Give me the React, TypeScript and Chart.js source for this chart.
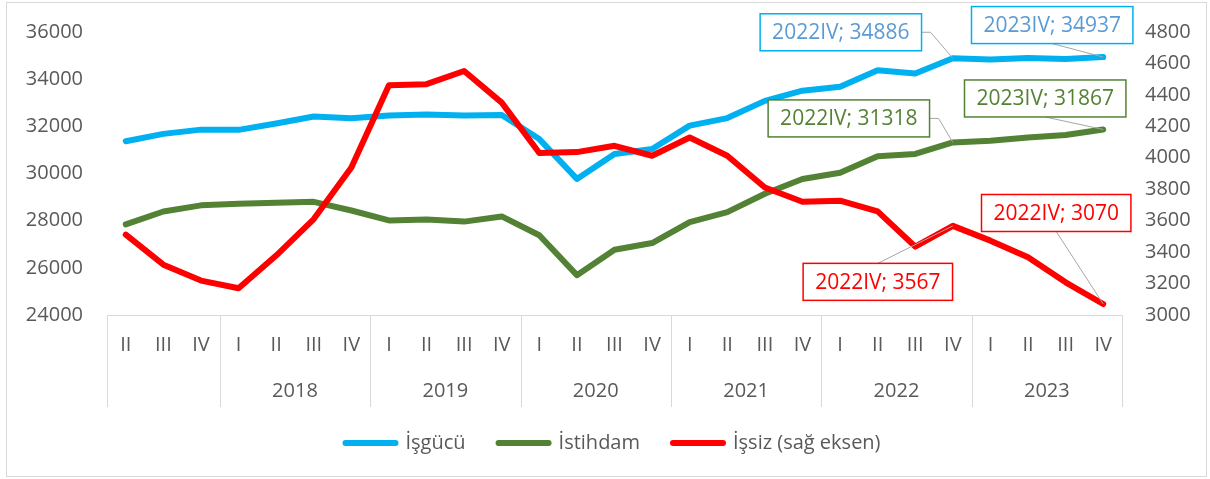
import { useEffect, useRef } from "react";
import { Chart, registerables } from "chart.js";

Chart.register(...registerables);

// ---- data ----
const quarterLabels = [
  "II", "III", "IV",
  "I", "II", "III", "IV",
  "I", "II", "III", "IV",
  "I", "II", "III", "IV",
  "I", "II", "III", "IV",
  "I", "II", "III", "IV",
  "I", "II", "III", "IV",
];
const yearLabels = ["", "2018", "2019", "2020", "2021", "2022", "2023"];
const yearGroupSizes = [3, 4, 4, 4, 4, 4, 4];

const isgucu = [
  31370, 31680, 31860,
  31850, 32120, 32420, 32340,
  32460, 32500, 32460, 32480,
  31460, 29770, 30830, 31040,
  32030, 32350, 33080, 33510,
  33680, 34380, 34240, 34886,
  34830, 34900, 34860, 34937,
];
const istihdam = [
  27840, 28390, 28650,
  28720, 28760, 28800, 28430,
  28010, 28050, 27960, 28180,
  27380, 25690, 26770, 27050,
  27940, 28360, 29140, 29770,
  30030, 30730, 30830, 31318,
  31390, 31530, 31630, 31867,
];
const issiz = [
  3511, 3320, 3219,
  3170, 3378, 3610, 3938,
  4461, 4468, 4552, 4351,
  4030, 4036, 4076, 4013,
  4129, 4013, 3811, 3720,
  3727, 3659, 3435, 3567,
  3473, 3367, 3208, 3070,
];

const seriesNames = ["İşgücü", "İstihdam", "İşsiz (sağ eksen)"];

const leftTicks = { min: 24000, max: 36000, step: 2000 };
const rightTicks = { min: 3000, max: 4800, step: 200 };

const labelTexts = [
  "2022IV; 34886",
  "2023IV; 34937",
  "2022IV; 31318",
  "2023IV; 31867",
  "2022IV; 3567",
  "2022IV; 3070",
];
const labelDatasets = [0, 0, 1, 1, 2, 2];
const labelIndexes = [22, 26, 22, 26, 22, 26];

// ---- styles ----
const COLORS = ["#00B0F0", "#548235", "#FF0000"];
const LABEL_TEXT_COLORS = ["#5B9BD5", "#548235", "#FF0000"];
const AXIS_COLOR = "#595959";
const FRAME_COLOR = "#D9D9D9";
const FONT_FAMILY = "'Open Sans', sans-serif";
const FONT_SIZE = 20;
const LABEL_FONT_SIZE = 21;

// label placement relative to the point (box centre offset) and leader anchor
const labelPlacement = [
  { dx: -112, dy: -26, anchor: "right" },
  { dx: -51, dy: -32, anchor: "bottom" },
  { dx: -104, dy: -24, anchor: "right" },
  { dx: -58, dy: -31, anchor: "bottom" },
  { dx: -75, dy: 56, anchor: "top" },
  { dx: -47, dy: -91, anchor: "bottom" },
];

const CAT_AXIS_HEIGHT = 85;
const SEPARATOR_DEPTH = 92;
const YEAR_LABEL_OFFSET = 76;
const LEGEND_SHIFT = 8;

const plainNumber = (v: any) => String(v);

const annotationPlugin = {
  id: "pointAnnotations",
  afterDatasetsDraw(chart: any) {
    const ctx = chart.ctx;
    ctx.save();
    ctx.font = `${LABEL_FONT_SIZE}px ${FONT_FAMILY}`;
    labelTexts.forEach((text, k) => {
      const ds = labelDatasets[k];
      const pt = chart.getDatasetMeta(ds).data[labelIndexes[k]];
      if (!pt) return;
      const p = labelPlacement[k];
      const cx = pt.x + p.dx;
      const cy = pt.y + p.dy;
      const tw = ctx.measureText(text).width;
      const w = tw + 24;
      const h = 37;
      const x0 = cx - w / 2;
      const y0 = cy - h / 2;
      // leader line
      ctx.strokeStyle = "#A6A6A6";
      ctx.lineWidth = 1;
      ctx.beginPath();
      if (p.anchor === "right") {
        ctx.moveTo(x0 + w, cy);
        ctx.lineTo(x0 + w + 9, cy);
      } else if (p.anchor === "bottom") {
        ctx.moveTo(cx, y0 + h);
      } else {
        ctx.moveTo(cx, y0);
      }
      ctx.lineTo(pt.x, pt.y);
      ctx.stroke();
      // box
      ctx.fillStyle = "#FFFFFF";
      ctx.fillRect(x0, y0, w, h);
      ctx.strokeStyle = COLORS[ds];
      ctx.lineWidth = 1.5;
      ctx.strokeRect(x0, y0, w, h);
      ctx.fillStyle = LABEL_TEXT_COLORS[ds];
      ctx.textAlign = "center";
      ctx.textBaseline = "middle";
      ctx.fillText(text, cx, cy + 1);
    });
    ctx.restore();
  },
};

const categoryAxisPlugin = {
  id: "multiLevelAxis",
  afterLayout(chart: any) {
    if (chart.legend) {
      chart.legend.left += LEGEND_SHIFT;
      chart.legend.right += LEGEND_SHIFT;
    }
  },
  afterDraw(chart: any) {
    const ctx = chart.ctx;
    const xs = chart.scales.x;
    const area = chart.chartArea;
    const top = area.bottom;
    const bottom = top + SEPARATOR_DEPTH;
    ctx.save();
    ctx.strokeStyle = FRAME_COLOR;
    ctx.lineWidth = 1;
    const vline = (x: number) => {
      const px = Math.round(x) + 0.5;
      ctx.beginPath();
      ctx.moveTo(px, top);
      ctx.lineTo(px, bottom);
      ctx.stroke();
    };
    vline(area.left);
    ctx.font = `${FONT_SIZE}px ${FONT_FAMILY}`;
    ctx.fillStyle = AXIS_COLOR;
    ctx.textAlign = "center";
    ctx.textBaseline = "middle";
    let start = 0;
    yearGroupSizes.forEach((size, g) => {
      const end = start + size - 1;
      const xStart = xs.getPixelForValue(start);
      const xEnd = xs.getPixelForValue(end);
      const boundary =
        end + 1 < quarterLabels.length
          ? (xEnd + xs.getPixelForValue(end + 1)) / 2
          : area.right;
      vline(boundary);
      if (yearLabels[g]) {
        ctx.fillText(yearLabels[g], (xStart + xEnd) / 2, top + YEAR_LABEL_OFFSET);
      }
      start = end + 1;
    });
    // outer chart frame
    ctx.strokeStyle = FRAME_COLOR;
    ctx.strokeRect(6.5, 2.5, 1200, 474);
    ctx.restore();
  },
};

const trimVerticalPadding = (s: any) => {
  s.paddingTop = 12;
  s.paddingBottom = 12;
};

export default function App() {
  const canvasRef = useRef<HTMLCanvasElement | null>(null);

  useEffect(() => {
    if (!canvasRef.current) return;
    const font = { family: FONT_FAMILY, size: FONT_SIZE };
    const chart = new Chart(canvasRef.current, {
      type: "line",
      data: {
        labels: quarterLabels,
        datasets: [
          { label: seriesNames[0], data: isgucu, yAxisID: "y", order: 1 },
          { label: seriesNames[1], data: istihdam, yAxisID: "y", order: 2 },
          { label: seriesNames[2], data: issiz, yAxisID: "y1", order: 0 },
        ].map((d, i) => ({
          ...d,
          borderColor: COLORS[i],
          backgroundColor: COLORS[i],
          borderWidth: 6,
          borderCapStyle: "round" as const,
          borderJoinStyle: "round" as const,
          pointRadius: 0,
          pointHoverRadius: 0,
          tension: 0,
          fill: false,
        })),
      },
      options: {
        animation: false,
        responsive: true,
        maintainAspectRatio: false,
        layout: { padding: { top: 32, bottom: 16, left: 0, right: 0 } },
        plugins: {
          tooltip: { enabled: false },
          legend: {
            position: "bottom",
            labels: {
              usePointStyle: true,
              pointStyleWidth: 50,
              color: AXIS_COLOR,
              font,
              padding: 33,
              generateLabels: (c: any) =>
                (Chart.defaults.plugins.legend.labels as any)
                  .generateLabels(c)
                  .map((l: any) => ({
                    ...l,
                    pointStyle: "line",
                    lineWidth: 6,
                    lineCap: "round",
                    strokeStyle: COLORS[l.datasetIndex],
                    fillStyle: COLORS[l.datasetIndex],
                  }))
                  .sort((a: any, b: any) => a.datasetIndex - b.datasetIndex),
            },
          },
        },
        scales: {
          x: {
            type: "category",
            offset: true,
            grid: { display: false, drawTicks: false },
            border: { display: true, color: FRAME_COLOR, width: 1 },
            ticks: {
              autoSkip: false,
              maxRotation: 0,
              color: AXIS_COLOR,
              font,
              padding: 18,
            },
            afterFit: (s: any) => {
              s.height = CAT_AXIS_HEIGHT;
            },
          },
          y: {
            position: "left",
            min: leftTicks.min,
            max: leftTicks.max,
            grid: { display: false, drawTicks: false },
            border: { display: false },
            ticks: {
              stepSize: leftTicks.step,
              color: AXIS_COLOR,
              font,
              padding: 24,
              callback: plainNumber,
            },
            afterFit: (s: any) => {
              s.width = 107;
              trimVerticalPadding(s);
            },
          },
          y1: {
            position: "right",
            min: rightTicks.min,
            max: rightTicks.max,
            grid: { display: false, drawTicks: false },
            border: { display: false },
            ticks: {
              stepSize: rightTicks.step,
              color: AXIS_COLOR,
              font,
              padding: 23,
              callback: plainNumber,
            },
            afterFit: (s: any) => {
              s.width = 88;
              trimVerticalPadding(s);
            },
          },
        },
      },
      plugins: [annotationPlugin, categoryAxisPlugin],
    } as any);
    return () => chart.destroy();
  }, []);

  return (
    <div
      style={{
        position: "absolute",
        left: 0,
        top: 0,
        width: 1210,
        height: 479,
        background: "#FFFFFF",
      }}
    >
      <canvas ref={canvasRef} />
    </div>
  );
}
